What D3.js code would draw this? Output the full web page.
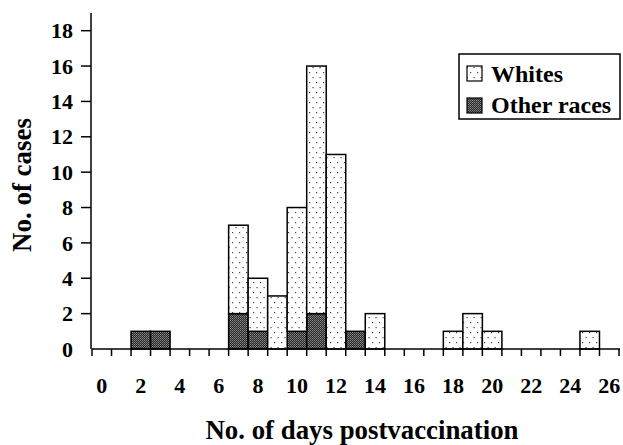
<!DOCTYPE html>
<html>
<head>
<meta charset="utf-8">
<script src="https://cdn.jsdelivr.net/npm/d3@7"></script>
<style>
html,body{margin:0;padding:0;background:#fff;}
svg{display:block;}
text{font-family:"Liberation Serif","Times New Roman",serif;font-weight:bold;fill:#000;}
</style>
</head>
<body>
<svg id="chart" width="623" height="445"></svg>
<script>
// Data
const days = [2, 3, 7, 8, 9, 10, 11, 12, 13, 14, 18, 19, 20, 25];
const otherRaces = [1, 1, 2, 1, 0, 1, 2, 0, 1, 0, 0, 0, 0, 0];
const whites =     [0, 0, 5, 3, 3, 7, 14, 11, 0, 2, 1, 2, 1, 1];
const yTicks = [0, 2, 4, 6, 8, 10, 12, 14, 16, 18];
const xTickLabels = [0, 2, 4, 6, 8, 10, 12, 14, 16, 18, 20, 22, 24, 26];
const seriesNames = ["Whites", "Other races"];
const xTitle = "No. of days postvaccination";
const yTitle = "No. of cases";

const svg = d3.select("#chart");
const x = d3.scaleLinear().domain([0, 27]).range([92, 619]);
const y = d3.scaleLinear().domain([0, 19]).range([349, 13]);

// patterns
const defs = svg.append("defs");
const pw = defs.append("pattern").attr("id", "dots").attr("patternUnits", "userSpaceOnUse")
  .attr("width", 7).attr("height", 10);
pw.append("rect").attr("width", 7).attr("height", 10).attr("fill", "#fff");
pw.append("rect").attr("x", 1).attr("y", 2).attr("width", 1.2).attr("height", 1.2).attr("fill", "#444");
pw.append("rect").attr("x", 4.5).attr("y", 7).attr("width", 1.2).attr("height", 1.2).attr("fill", "#444");

const pd = defs.append("pattern").attr("id", "dark").attr("patternUnits", "userSpaceOnUse")
  .attr("width", 2).attr("height", 2);
pd.append("rect").attr("width", 2).attr("height", 2).attr("fill", "#2a2a2a");
pd.append("rect").attr("x", 0).attr("y", 0).attr("width", 1).attr("height", 1).attr("fill", "#8a8a8a");
pd.append("rect").attr("x", 1).attr("y", 1).attr("width", 1).attr("height", 1).attr("fill", "#6a6a6a");

// stacked data
const table = days.map((d, i) => ({day: d, other: otherRaces[i], whites: whites[i]}));
const stack = d3.stack().keys(["other", "whites"]);
const series = stack(table);
const fills = {other: "url(#dark)", whites: "url(#dots)"};

const gBars = svg.append("g");
series.forEach(s => {
  gBars.selectAll(null).data(s.filter(d => d[1] - d[0] > 0)).enter().append("rect")
    .attr("x", d => x(d.data.day))
    .attr("width", d => x(d.data.day + 1) - x(d.data.day))
    .attr("y", d => y(d[1]))
    .attr("height", d => y(d[0]) - y(d[1]))
    .attr("fill", fills[s.key])
    .attr("stroke", "#000")
    .attr("stroke-width", 1.5);
});

// Y axis
const yAxis = svg.append("g");
yAxis.append("line").attr("x1", 91).attr("x2", 91).attr("y1", y(19)).attr("y2", y(0))
  .attr("stroke", "#000").attr("stroke-width", 1.5);
yAxis.selectAll(".yt").data(yTicks.filter(t => t > 0)).enter().append("line")
  .attr("x1", 81).attr("x2", 91).attr("y1", d => y(d)).attr("y2", d => y(d))
  .attr("stroke", "#000").attr("stroke-width", 1.5);
yAxis.selectAll(".yl").data(yTicks).enter().append("text")
  .attr("x", 73).attr("y", d => y(d)).attr("dy", "0.35em")
  .attr("text-anchor", "end").attr("font-size", 22).text(d => d);

// X axis
const xAxis = svg.append("g");
xAxis.append("line").attr("x1", x(0)).attr("x2", x(27) + 1).attr("y1", 349).attr("y2", 349)
  .attr("stroke", "#000").attr("stroke-width", 1.5);
xAxis.selectAll(".xt").data(d3.range(0, 28)).enter().append("line")
  .attr("x1", d => x(d)).attr("x2", d => x(d)).attr("y1", 349).attr("y2", 356)
  .attr("stroke", "#000").attr("stroke-width", 1.5);
xAxis.selectAll(".xl").data(xTickLabels).enter().append("text")
  .attr("x", d => x(d + 0.5)).attr("y", 393)
  .attr("text-anchor", "middle").attr("font-size", 22).text(d => d);

// Titles
svg.append("text").attr("x", 362).attr("y", 439).attr("text-anchor", "middle")
  .attr("font-size", 27).attr("textLength", 313).attr("lengthAdjust", "spacingAndGlyphs").text(xTitle);
svg.append("text").attr("transform", "translate(31,185) rotate(-90)").attr("text-anchor", "middle")
  .attr("font-size", 27).attr("textLength", 134).attr("lengthAdjust", "spacingAndGlyphs").text(yTitle);

// Legend
const lg = svg.append("g");
lg.append("rect").attr("x", 459).attr("y", 54).attr("width", 161).attr("height", 65)
  .attr("fill", "#fff").attr("stroke", "#000").attr("stroke-width", 1.5);
const legFills = ["url(#dots)", "url(#dark)"];
seriesNames.forEach((n, i) => {
  lg.append("rect").attr("x", 467).attr("y", 66 + i * 32).attr("width", 15).attr("height", 15)
    .attr("fill", legFills[i]).attr("stroke", "#000").attr("stroke-width", 1.2);
  lg.append("text").attr("x", 491).attr("y", 82 + i * 31).attr("font-size", 24).text(n);
});
</script>
</body>
</html>
